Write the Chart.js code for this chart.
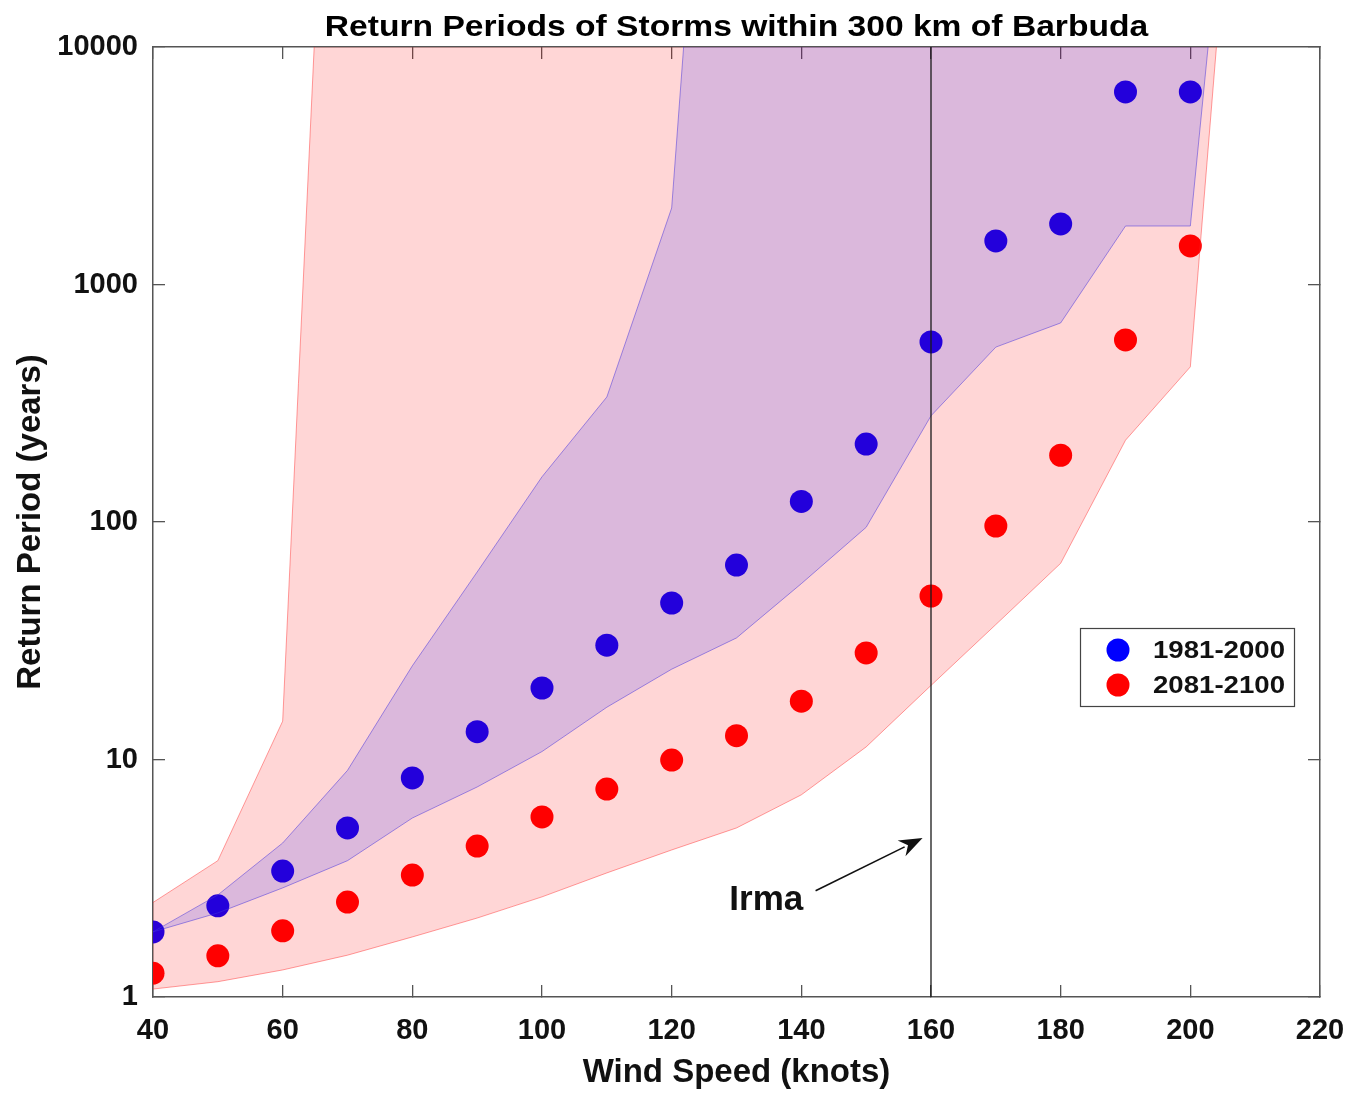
<!DOCTYPE html>
<html>
<head>
<meta charset="utf-8">
<title>Return Periods of Storms within 300 km of Barbuda</title>
<script src="https://cdn.jsdelivr.net/npm/chart.js@4.4.1/dist/chart.umd.min.js"></script>
<style>
  html, body { margin: 0; padding: 0; background: #fff; }
  canvas { display: block; }
</style>
</head>
<body>
<canvas id="periodoCanvas" width="1352" height="1093"></canvas>
<script>
// wind speed (knots) and return period (years) of each simulated storm class
const windSpeed = [40, 50, 60, 70, 80, 90, 100, 110, 120, 130, 140, 150, 160, 170, 180, 190, 200];
const period1981 = [1.88, 2.42, 3.39, 5.15, 8.36, 13.1, 20.0, 30.3, 45.6, 65.9, 122, 213, 573, 1525, 1798, 6467, 6467];
const period2081 = [1.26, 1.49, 1.90, 2.51, 3.26, 4.32, 5.73, 7.51, 9.95, 12.6, 17.6, 28.1, 48.8, 96.2, 191, 584, 1453];

// uncertainty bands; the 210 kt step closes each band above the plot
const bandSpeed = [40, 50, 60, 70, 80, 90, 100, 110, 120, 130, 140, 150, 160, 170, 180, 190, 200, 210];
const band1981Low = [1.88, 2.26, 2.88, 3.75, 5.67, 7.66, 10.8, 16.6, 24, 32.5, 55, 95, 280, 545, 689, 1763, 1763, 1e6];
const band1981High = [1.88, 2.69, 4.45, 9.0, 24.8, 61.6, 155, 336, 2100, 1e7, 1e7, 1e7, 1e7, 1e7, 1e7, 1e7, 1e7, 1e7];
const band2081Low = [1.08, 1.16, 1.30, 1.50, 1.79, 2.15, 2.64, 3.33, 4.16, 5.15, 7.1, 11.3, 20.5, 37, 67, 221, 450, 1e6];
const band2081High = [2.5, 3.75, 14.5, 1e7, 1e7, 1e7, 1e7, 1e7, 1e7, 1e7, 1e7, 1e7, 1e7, 1e7, 1e7, 1e7, 1e7, 1e7];

const speedTicks = [40, 60, 80, 100, 120, 140, 160, 180, 200, 220];
const periodTicks = [1, 10, 100, 1000, 10000];

// Irma marker: wind speed line, label and arrow (data units)
const irmaSpeed = 160;
const irmaLabel = { x: 134.6, y: 2.55 };
const irmaArrow = { x0: 142.2, y0: 2.80, x1: 158.7, y1: 4.67 };

const TITULO = 'Return Periods of Storms within 300 km of Barbuda';
const FONTE = '"Liberation Sans", Arial, Helvetica, sans-serif';
const COR_EIXO = '#555';

function pontos(xs, ys) {
  return xs.map((x, i) => ({ x: x, y: ys[i] }));
}

// closed outline: upper edge left to right, lower edge back
function contorno(xs, low, high) {
  return pontos(xs, high).concat(pontos(xs, low).reverse());
}

const fixaTicksX = (s) => { s.ticks = speedTicks.map(v => ({ value: v })); };
const fixaTicksY = (s) => { s.ticks = periodTicks.map(v => ({ value: v })); };

const tituloPlugin = {
  id: 'titulo',
  afterDraw(chart) {
    const { ctx, chartArea } = chart;
    ctx.save();
    ctx.font = 'bold 30px ' + FONTE;
    ctx.fillStyle = '#000';
    ctx.textAlign = 'center';
    ctx.textBaseline = 'alphabetic';
    ctx.translate((chartArea.left + chartArea.right) / 2, 36);
    ctx.scale(1.12, 1);
    ctx.fillText(TITULO, 0, 0);
    ctx.restore();
  }
};

const irmaPlugin = {
  id: 'irma',
  afterDatasetsDraw(chart) {
    const { ctx } = chart;
    const sx = chart.scales.x;
    const sy = chart.scales.y;
    ctx.save();
    ctx.fillStyle = '#111';
    ctx.font = 'bold 35px ' + FONTE;
    ctx.textAlign = 'center';
    ctx.textBaseline = 'middle';
    ctx.fillText('Irma', sx.getPixelForValue(irmaLabel.x), sy.getPixelForValue(irmaLabel.y));

    const x0 = sx.getPixelForValue(irmaArrow.x0);
    const y0 = sy.getPixelForValue(irmaArrow.y0);
    const x1 = sx.getPixelForValue(irmaArrow.x1);
    const y1 = sy.getPixelForValue(irmaArrow.y1);
    const ang = Math.atan2(y1 - y0, x1 - x0);
    const ponta = 25;
    const abre = 0.36;
    ctx.strokeStyle = '#111';
    ctx.lineWidth = 1.6;
    ctx.beginPath();
    ctx.moveTo(x0, y0);
    ctx.lineTo(x1 - Math.cos(ang) * ponta * 0.8, y1 - Math.sin(ang) * ponta * 0.8);
    ctx.stroke();
    ctx.beginPath();
    ctx.moveTo(x1, y1);
    ctx.lineTo(x1 - ponta * Math.cos(ang - abre), y1 - ponta * Math.sin(ang - abre));
    ctx.lineTo(x1 - ponta * 0.65 * Math.cos(ang), y1 - ponta * 0.65 * Math.sin(ang));
    ctx.lineTo(x1 - ponta * Math.cos(ang + abre), y1 - ponta * Math.sin(ang + abre));
    ctx.closePath();
    ctx.fill();
    ctx.restore();
  }
};

const legendaPlugin = {
  id: 'legendaCaixa',
  afterDraw(chart) {
    const { ctx, chartArea } = chart;
    const itens = chart.data.datasets.filter(d => d.showLine === false);
    const bx = chartArea.right - 240;
    const by = chartArea.top + 581;
    ctx.save();
    ctx.fillStyle = '#fff';
    ctx.fillRect(bx, by, 214, 78);
    ctx.strokeStyle = '#444';
    ctx.lineWidth = 1.2;
    ctx.strokeRect(bx + 0.5, by + 0.5, 214, 78);
    itens.forEach((d, i) => {
      const cy = by + 22 + i * 35;
      ctx.fillStyle = d.pointBackgroundColor;
      ctx.beginPath();
      ctx.arc(bx + 38, cy, 11.5, 0, Math.PI * 2);
      ctx.fill();
      ctx.fillStyle = '#111';
      ctx.font = 'bold 24px ' + FONTE;
      ctx.textAlign = 'left';
      ctx.textBaseline = 'middle';
      ctx.save();
      ctx.translate(bx + 73, cy + 1);
      ctx.scale(1.15, 1);
      ctx.fillText(d.label, 0, 0);
      ctx.restore();
    });
    ctx.restore();
  }
};

const eixoX = (extra) => Object.assign({
  type: 'linear',
  min: 40,
  max: 220,
  afterBuildTicks: fixaTicksX,
  grid: { drawOnChartArea: false, tickLength: -12, color: COR_EIXO, lineWidth: 1.3 },
  border: { color: COR_EIXO, width: 1.5 }
}, extra);

const eixoY = (extra) => Object.assign({
  type: 'logarithmic',
  min: 1,
  max: 10000,
  afterBuildTicks: fixaTicksY,
  grid: { drawOnChartArea: false, tickLength: -12, color: COR_EIXO, lineWidth: 1.3 },
  border: { color: COR_EIXO, width: 1.5 }
}, extra);

const ctx = document.getElementById('periodoCanvas');
new Chart(ctx, {
  type: 'line',
  data: {
    datasets: [
      {
        label: 'Irma',
        data: [{ x: irmaSpeed, y: 1 }, { x: irmaSpeed, y: 10000 }],
        borderColor: '#1a1a1a',
        borderWidth: 1.3,
        pointRadius: 0,
        fill: false,
        order: 0
      },
      {
        label: 'banda 1981-2000',
        data: contorno(bandSpeed, band1981Low, band1981High),
        backgroundColor: 'rgba(0, 0, 255, 0.14)',
        borderColor: 'rgba(70, 50, 220, 0.5)',
        borderWidth: 1,
        pointRadius: 0,
        fill: 'shape',
        order: 1
      },
      {
        label: 'banda 2081-2100',
        data: contorno(bandSpeed, band2081Low, band2081High),
        backgroundColor: 'rgba(255, 0, 0, 0.16)',
        borderColor: 'rgba(255, 40, 40, 0.45)',
        borderWidth: 1,
        pointRadius: 0,
        fill: 'shape',
        order: 2
      },
      {
        label: '1981-2000',
        data: pontos(windSpeed, period1981),
        showLine: false,
        pointRadius: 11.5,
        pointHoverRadius: 11.5,
        pointBorderWidth: 0,
        pointBackgroundColor: '#0000ff',
        order: 3
      },
      {
        label: '2081-2100',
        data: pontos(windSpeed, period2081),
        showLine: false,
        pointRadius: 11.5,
        pointHoverRadius: 11.5,
        pointBorderWidth: 0,
        pointBackgroundColor: '#ff0000',
        order: 3
      }
    ]
  },
  options: {
    responsive: false,
    animation: false,
    layout: { padding: { top: 47, right: 32, bottom: 0, left: 0 } },
    elements: { line: { tension: 0 } },
    plugins: {
      legend: { display: false },
      tooltip: { enabled: false },
      title: { display: false }
    },
    scales: {
      x: eixoX({
        position: 'bottom',
        ticks: { padding: 29, color: '#111', font: { family: FONTE, size: 29, weight: 'bold' } },
        title: {
          display: true,
          text: 'Wind Speed (knots)',
          color: '#111',
          padding: { top: 0, bottom: 0 },
          font: { family: FONTE, size: 33, weight: 'bold' }
        },
        afterFit: (s) => { s.height = 96; s.paddingLeft = 0; s.paddingRight = 0; }
      }),
      xTopo: eixoX({
        position: 'top',
        ticks: { display: false },
        afterFit: (s) => { s.height = 0; s.paddingLeft = 0; s.paddingRight = 0; }
      }),
      y: eixoY({
        position: 'left',
        ticks: {
          padding: 27,
          color: '#111',
          font: { family: FONTE, size: 29, weight: 'bold' },
          callback: (v) => String(v)
        },
        title: {
          display: true,
          text: 'Return Period (years)',
          color: '#111',
          padding: { top: 11, bottom: 0 },
          font: { family: FONTE, size: 33, weight: 'bold' }
        },
        afterFit: (s) => { s.width = 153; s.paddingTop = 0; s.paddingBottom = 0; }
      }),
      yDireita: eixoY({
        position: 'right',
        ticks: { display: false },
        afterFit: (s) => { s.width = 0; s.paddingTop = 0; s.paddingBottom = 0; }
      })
    }
  },
  plugins: [tituloPlugin, irmaPlugin, legendaPlugin]
});
</script>
</body>
</html>
